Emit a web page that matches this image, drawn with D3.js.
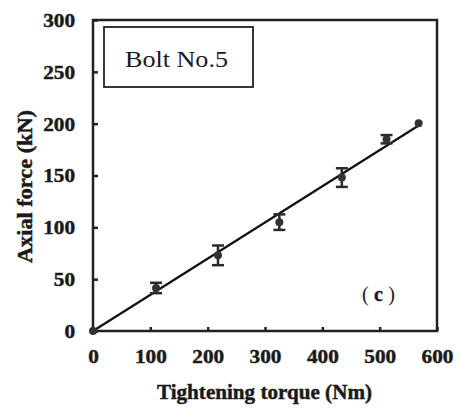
<!DOCTYPE html>
<html>
<head>
<meta charset="utf-8">
<script src="https://cdn.jsdelivr.net/npm/d3@7"></script>
<style>
  body { margin: 0; background: #fff; }
</style>
</head>
<body>
<svg id="root" width="458" height="409"></svg>
<script>
const d3 = window.d3

const width = 458
const height = 409
const serif = '"Liberation Serif", "Times New Roman", "DejaVu Serif", serif'

// measured points (torque Nm, force kN, error kN)
const torque = [0, 110, 218, 325, 434, 512, 568]
const force = [0, 41.5, 73, 105, 148, 185, 200.5]
const errorBar = [0, 5, 9.5, 7.5, 9, 4, 1]

const xTicks = [0, 100, 200, 300, 400, 500, 600]
const yTicks = [0, 50, 100, 150, 200, 250, 300]

const margin = { left: 93, right: 21, top: 20, bottom: 78 }

const svg = d3.select('#root')

const xScale = d3.scaleLinear()
  .domain([0, 600])
  .range([margin.left, width - margin.right])

const yScale = d3.scaleLinear()
  .domain([0, 300])
  .range([height - margin.bottom, margin.top])

// linear fit through origin
const k = d3.sum(torque, (d, i) => d * force[i]) / d3.sum(torque, d => d * d)
const xMax = d3.max(torque)

// scanned-looking bold text
function boldText (sel) {
  sel.attr('font-family', serif)
    .attr('font-weight', 'bold')
    .attr('fill', '#1a1a1a')
    .attr('stroke', '#1a1a1a')
    .attr('stroke-width', 0.45)
}

// axes with inward ticks
const xAxis = d3.axisBottom(xScale).tickValues(xTicks).tickSize(-4).tickPadding(19)
const yAxis = d3.axisLeft(yScale).tickValues(yTicks).tickSize(-5).tickPadding(18)

const gx = svg.append('g')
  .attr('transform', `translate(0, ${yScale(0)})`)
  .call(xAxis)
  .attr('font-family', serif)
gx.select('.domain').remove()
gx.selectAll('line').attr('stroke', '#222').attr('stroke-width', 2.5)
gx.selectAll('text')
  .call(boldText)
  .attr('font-size', 19)
  .attr('textLength', d => String(d).length * 10.6)
  .attr('lengthAdjust', 'spacingAndGlyphs')

const gy = svg.append('g')
  .attr('transform', `translate(${xScale(0)}, 0)`)
  .call(yAxis)
  .attr('font-family', serif)
gy.select('.domain').remove()
gy.selectAll('line').attr('stroke', '#222').attr('stroke-width', 2.5)
gy.selectAll('text')
  .call(boldText)
  .attr('font-size', 19)
  .attr('dy', '0.34em')
  .attr('textLength', d => String(d).length * 10.6)
  .attr('lengthAdjust', 'spacingAndGlyphs')

// frame
svg.append('rect')
  .attr('x', xScale(0))
  .attr('y', yScale(300))
  .attr('width', xScale(600) - xScale(0))
  .attr('height', yScale(0) - yScale(300))
  .attr('fill', 'none')
  .attr('stroke', '#222')
  .attr('stroke-width', 2.5)

// fit line
svg.append('line')
  .attr('x1', xScale(0)).attr('y1', yScale(0))
  .attr('x2', xScale(xMax)).attr('y2', yScale(k * xMax))
  .attr('stroke', '#111')
  .attr('stroke-width', 2.2)

// error bars
const bars = svg.selectAll('g.err')
  .data(torque.map((t, i) => ({ t, f: force[i], e: errorBar[i] })).filter(d => d.e > 1.5))
  .enter()
  .append('g')
  .attr('class', 'err')
  .attr('stroke', '#2a2a2a')
  .attr('stroke-width', 2.5)

bars.append('line')
  .attr('x1', d => xScale(d.t)).attr('x2', d => xScale(d.t))
  .attr('y1', d => yScale(d.f - d.e)).attr('y2', d => yScale(d.f + d.e))
bars.append('line')
  .attr('x1', d => xScale(d.t) - 6).attr('x2', d => xScale(d.t) + 6)
  .attr('y1', d => yScale(d.f + d.e)).attr('y2', d => yScale(d.f + d.e))
bars.append('line')
  .attr('x1', d => xScale(d.t) - 6).attr('x2', d => xScale(d.t) + 6)
  .attr('y1', d => yScale(d.f - d.e)).attr('y2', d => yScale(d.f - d.e))

// points
svg.selectAll('circle.pt')
  .data(torque)
  .enter()
  .append('circle')
  .attr('class', 'pt')
  .attr('cx', d => xScale(d))
  .attr('cy', (d, i) => yScale(force[i]))
  .attr('r', 4)
  .attr('fill', '#333')

// legend box
svg.append('rect')
  .attr('x', 104).attr('y', 27)
  .attr('width', 149).attr('height', 60)
  .attr('fill', '#fff')
  .attr('stroke', '#222')
  .attr('stroke-width', 1.8)
svg.append('text')
  .attr('x', 125).attr('y', 66.5)
  .attr('font-family', serif)
  .attr('font-size', 22.5)
  .attr('fill', '#1a1a1a')
  .attr('textLength', 103)
  .attr('lengthAdjust', 'spacingAndGlyphs')
  .text('Bolt No.5')

// panel label
const lab = svg.append('text')
  .attr('x', 362).attr('y', 301)
  .attr('font-family', serif)
  .attr('font-size', 20)
  .attr('fill', '#1a1a1a')
  .attr('textLength', 33)
  .attr('lengthAdjust', 'spacing')
lab.append('tspan').text('(')
lab.append('tspan').attr('font-weight', 'bold').attr('stroke', '#1a1a1a').attr('stroke-width', 0.4).text('c')
lab.append('tspan').text(')')

// axis titles
svg.append('text')
  .attr('x', 157).attr('y', 399)
  .call(boldText)
  .attr('font-size', 20.5)
  .attr('textLength', 215)
  .attr('lengthAdjust', 'spacingAndGlyphs')
  .text('Tightening torque (Nm)')

svg.append('text')
  .attr('transform', 'translate(32, 263) rotate(-90)')
  .call(boldText)
  .attr('font-size', 20.5)
  .attr('textLength', 153)
  .attr('lengthAdjust', 'spacingAndGlyphs')
  .text('Axial force (kN)')
</script>
</body>
</html>
